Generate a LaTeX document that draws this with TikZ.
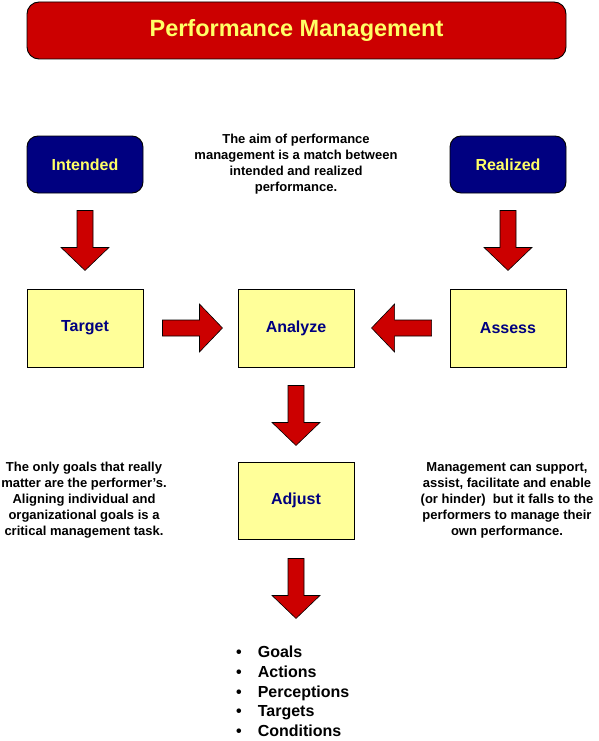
\documentclass[tikz,border=0pt]{standalone}
\usepackage{fontspec}
\setmainfont{Liberation Sans}
\usetikzlibrary{calc}
\definecolor{mytitlered}{RGB}{204,0,0}
\definecolor{mynavy}{RGB}{0,0,128}
\definecolor{mylightyellow}{RGB}{255,255,153}
\definecolor{mytextyellow}{RGB}{255,255,102}
\newcommand{\widthbox}{116pt}
\newcommand{\heightgoal}{57pt}
\newcommand{\heightstep}{78pt}
\tikzset{
    common/.style={draw=black, line width=0.9pt, inner sep=0pt, font=\bfseries\fontsize{16}{19}\selectfont},
    goal/.style={common, rounded corners=11pt, fill=mynavy, text=mytextyellow, minimum width=\widthbox, minimum height=\heightgoal},
    stepbox/.style={common, fill=mylightyellow, text=mynavy, minimum width=\widthbox, minimum height=\heightstep},
    note/.style={align=center, inner sep=0pt, font=\bfseries\fontsize{13}{16}\selectfont},
    bigarrow/.pic={
        \draw[fill=mytitlered, line width=0.6pt, line join=miter]
            (-8,0) -- (8,0) -- (8,37) -- (24,37) -- (0,60) -- (-24,37) -- (-8,37) -- cycle;
    }
}

\begin{document}
\begin{tikzpicture}[x=1pt, y=-1pt]
    \useasboundingbox (0,0) rectangle (599,741);

    \node[common, rounded corners=12pt, fill=mytitlered, text=mytextyellow, minimum width=539pt, minimum height=57pt,
        font=\bfseries\fontsize{23.5}{28}\selectfont] (title) at (296.5,30.5) {Performance Management};

    \node[goal] (intended) at (85,164.5) {Intended};
    \node[goal] (realized) at (508,164.5) {Realized};
    \node[note] (aim) at (296,164) {The aim of performance\\management is a match between\\intended and realized\\performance.};

    \node[stepbox] (target) at (85,328) {Target};
    \node[stepbox] (analyze) at (296,328) {Analyze};
    \node[stepbox] (assess) at (508,328) {Assess};
    \node[stepbox, minimum height=77pt] (adjust) at (296,500.5) {Adjust};

    \node[note] (goalsnote) at (84,500) {The only goals that really\\matter are the performer's.\\Aligning individual and\\organizational goals is a\\critical management task.};
    \node[note] (supportnote) at (507,500) {Management can support,\\assist, facilitate and enable\\(or hinder)\ \ but it falls to the\\performers to manage their\\own performance.};

    \pic at ($(intended.south)+(0,17)$) {bigarrow};
    \pic at ($(realized.south)+(0,17)$) {bigarrow};
    \pic[rotate=90] at ($(target.east)+(19,0)$) {bigarrow};
    \pic[rotate=-90] at ($(assess.west)+(-18,0)$) {bigarrow};
    \pic at ($(analyze.south)+(0,18)$) {bigarrow};
    \pic at ($(adjust.south)+(0,19)$) {bigarrow};

    \node[anchor=north west, align=left, inner sep=0pt, font=\bfseries\fontsize{16}{19.7}\selectfont] (factors) at (236,646)
        {\textbullet\hspace{16pt}Goals\\\textbullet\hspace{16pt}Actions\\\textbullet\hspace{16pt}Perceptions\\\textbullet\hspace{16pt}Targets\\\textbullet\hspace{16pt}Conditions};
\end{tikzpicture}
\end{document}
